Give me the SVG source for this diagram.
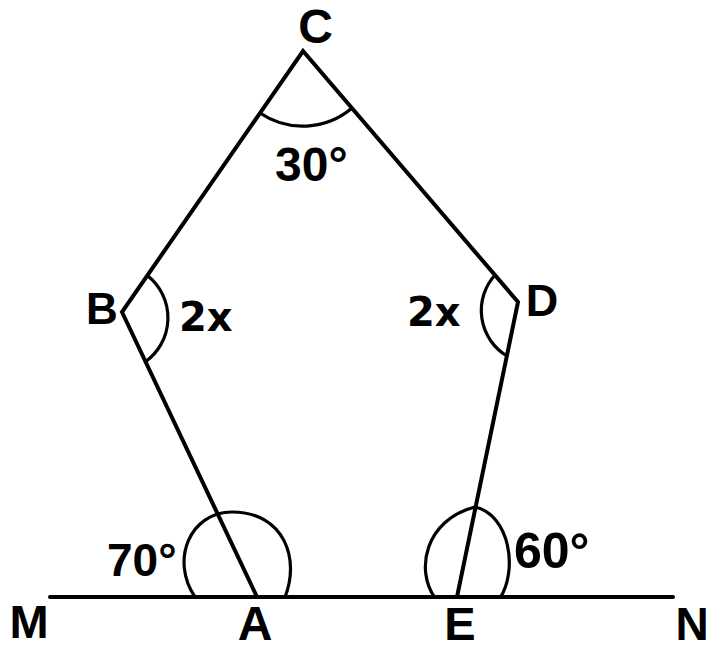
<svg xmlns="http://www.w3.org/2000/svg" width="712" height="650" viewBox="0 0 712 650">
<style>
.ln{stroke:#000;stroke-width:4;fill:none;stroke-linecap:round}
.arc{stroke:#000;stroke-width:3.2;fill:none}
.t{font-family:"Liberation Sans",Arial,sans-serif;font-weight:bold;fill:#000}
.v{font-family:"DejaVu Sans",Verdana,sans-serif;font-weight:bold;fill:#000}
</style>
<rect width="712" height="650" fill="#fff"/>
<g id="lines">
<line class="ln" x1="50" y1="597" x2="673" y2="597"/>
<polyline class="ln" points="257,597 122,312 303,51 518,302 457,597"/>
</g>
<g id="angles">
<path class="arc" d="M260,113 A76,76 0 0 0 352,108"/>
<path class="arc" d="M148,276 A54,54 0 0 1 145.5,361.7"/>
<path class="arc" d="M495,275 A53,53 0 0 0 507,356"/>
<path class="arc" d="M195,597 C170,560 190,512 232,512 C285,512 300,560 285,597"/>
<path class="arc" d="M435,598 C415,570 425,520 475,507 C510,515 518,570 500,598"/>
</g>
<g id="labels">
<text class="t" x="315.5" y="43" font-size="48" text-anchor="middle">C</text>
<text class="t" x="102" y="324" font-size="44" text-anchor="middle">B</text>
<text class="t" x="542" y="316" font-size="45" text-anchor="middle">D</text>
<text class="t" x="29" y="638" font-size="47" text-anchor="middle">M</text>
<text class="t" x="255" y="640" font-size="48" text-anchor="middle">A</text>
<text class="t" x="460" y="640" font-size="47" text-anchor="middle">E</text>
<text class="t" x="692" y="640" font-size="46" text-anchor="middle">N</text>
<text class="t" x="275" y="181" font-size="48">30°</text>
<text class="v" x="179" y="331" font-size="40">2x</text>
<text class="v" x="407" y="326" font-size="40">2x</text>
<text class="t" x="107" y="576" font-size="46">70°</text>
<text class="t" x="514" y="568" font-size="50">60°</text>
</g>
</svg>
